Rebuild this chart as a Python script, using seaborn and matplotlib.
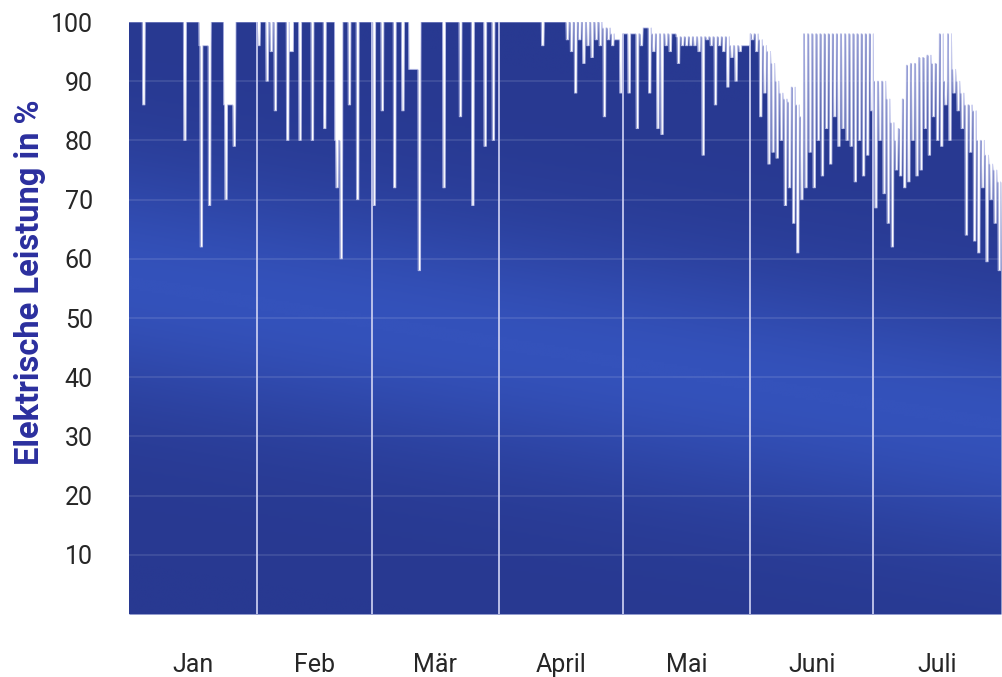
import numpy as np
import pandas as pd
import matplotlib
matplotlib.use("Agg")
import matplotlib.pyplot as plt
import seaborn as sns
from matplotlib.colors import LinearSegmentedColormap
from matplotlib.patches import PathPatch

# ---- data: daily peak output and the lowest value reached that day (% of rated power)
months = ["Jan", "Feb", "Mär", "April", "Mai", "Juni", "Juli"]
days_in_month = [31, 28, 31, 30, 31, 30, 31]

peak_jan = [100] * 17 + [96, 96, 96] + [100, 100, 100] + [86, 86, 86] + [100] * 5
low_jan = [100, 100, 100, 86, 100, 100, 100, 100, 100, 100, 100, 100, 100, 80, 100, 100,
           100, 62, 96, 69, 100, 100, 100, 70, 86, 79, 100, 100, 100, 100, 100]

peak_feb = [100] * 8 + [95] + [100] * 10 + [80, 80] + [100] * 7
low_feb = [96, 100, 90, 95, 85, 100, 100, 80, 95, 100, 80, 100, 100, 80, 100, 100,
           82, 100, 100, 72, 60, 100, 86, 100, 70, 100, 100, 100]

peak_mar = [100] * 9 + [92, 92, 92] + [100] * 19
low_mar = [69, 100, 85, 100, 100, 72, 100, 85, 100, 92, 92, 58, 100, 100, 100, 100,
           100, 72, 100, 100, 100, 84, 100, 100, 69, 100, 100, 79, 100, 80, 100]

peak_apr = [100] * 25 + [99, 99, 98, 97, 97]
low_apr = [100] * 10 + [96] + [100] * 5 + [97, 95, 88, 97, 93, 96, 94, 97, 96, 84,
                                          97, 96, 97, 88]

peak_mai = [98] * 5 + [99, 99] + [98] * 6 + [97.5] * 13 + [96] * 5
low_mai = [98, 88, 98, 82, 96, 99, 88, 95, 82, 81, 96, 95, 98, 93, 96, 96, 96, 96, 95,
           77.5, 97, 96, 86, 96, 95, 89, 94, 90, 95, 96, 96]

peak_jun = [98, 98, 97, 96, 95, 93, 90, 88, 87, 86.5, 89, 86, 84] + [98] * 17
low_jun = [97, 95, 84, 88, 76, 78, 77, 80, 69, 72, 66, 61, 70, 72, 78, 72, 80, 74, 82,
           76, 84, 79, 82, 80, 79, 73, 80, 74, 77.5, 85]

peak_jul = [90, 90, 90, 87, 83, 80, 82, 87, 92.7, 93, 93, 94, 94, 94.4, 93, 93, 98, 90,
            98, 92, 90, 88, 86, 86, 85, 80, 80, 77.5, 76, 75, 73]
low_jul = [68.6, 80, 71, 66, 62, 75, 74, 72, 73, 80, 74, 75, 82, 77.5, 84, 80, 79, 86,
           80, 88, 85, 82, 64, 78, 63, 61, 72, 59.5, 70, 66, 58]

y_ticks = [10, 20, 30, 40, 50, 60, 70, 80, 90, 100]

# ---- build the time profile: each day sits at its peak and drops to its low for a while
peak = np.concatenate([peak_jan, peak_feb, peak_mar, peak_apr, peak_mai, peak_jun, peak_jul])
low = np.concatenate([low_jan, low_feb, low_mar, low_apr, low_mai, low_jun, low_jul])
n_days = len(peak)
tag, leistung = [], []
for d, (p, lo) in enumerate(zip(peak, low)):
    tag += [d, d + 0.22, d + 0.3, d + 0.88, d + 0.96]
    leistung += [p, p, lo, lo, p]
tag.append(n_days)
leistung.append(peak[-1])
df = pd.DataFrame({"tag": tag, "leistung": leistung})

bounds = np.cumsum(days_in_month)
centers = bounds - np.array(days_in_month) / 2.0

# ---- figure
sns.set_theme(style="white")
plt.rcParams["font.family"] = ["Roboto", "DejaVu Sans"]

fig = plt.figure(figsize=(10.03, 6.77), dpi=100)
ax = fig.add_axes([129 / 1003, 1 - 614 / 677, (1001 - 129) / 1003, (614 - 22) / 677])
ax.set_facecolor("white")

dark = "#2a3b9c"
poly = ax.fill_between(df["tag"], 0, df["leistung"], color=dark, lw=0, zorder=1)

# soft diagonal sheen inside the filled area
clip = PathPatch(poly.get_paths()[0], transform=ax.transData, facecolor="none", edgecolor="none")
ax.add_patch(clip)
gx, gy = np.meshgrid(np.linspace(0, n_days, 400), np.linspace(0, 100, 300))
band = 56 - 24 * gx / n_days
shade = np.exp(-((gy - band) / 20.0) ** 2)
cmap = LinearSegmentedColormap.from_list("sheen", ["#283991", "#3452bb"])
img = ax.imshow(shade, extent=(0, n_days, 0, 100), origin="lower", aspect="auto",
                cmap=cmap, vmin=0, vmax=1, interpolation="bilinear", zorder=1.5)
img.set_clip_path(clip)

# pale rim along the output curve
sns.lineplot(data=df, x="tag", y="leistung", ax=ax, color="#c3c7ee", lw=0.7,
             alpha=0.8, zorder=2.5)

# grid lines and month separators
for yv in y_ticks[:-1]:
    ax.axhline(yv, color="white", alpha=0.12, lw=1.2, zorder=2)
vl = ax.vlines(bounds[:-1], 0, 100, color="#c9ccf0", lw=1.4, alpha=0.9, zorder=3)
vl.set_clip_path(clip)

ax.set_xlim(0, n_days)
ax.set_ylim(0, 100)
ax.set_yticks(y_ticks)
ax.set_yticklabels([str(v) for v in y_ticks])
ax.set_xticks(centers)
ax.set_xticklabels(months)
ax.tick_params(axis="y", length=0, pad=26, labelsize=18, labelcolor="#262626")
ax.tick_params(axis="x", length=0, pad=28, labelsize=18, labelcolor="#262626")
for s in ax.spines.values():
    s.set_visible(False)
ax.set_xlabel("")
ax.set_ylabel("")

fig.text(30 / 1003, 1 - 282 / 677, "Elektrische Leistung in %", rotation=90,
         ha="center", va="center", fontsize=23.5, fontweight="bold", color="#2b2f9e")

fig.savefig("out.png", dpi=100, facecolor="white")
